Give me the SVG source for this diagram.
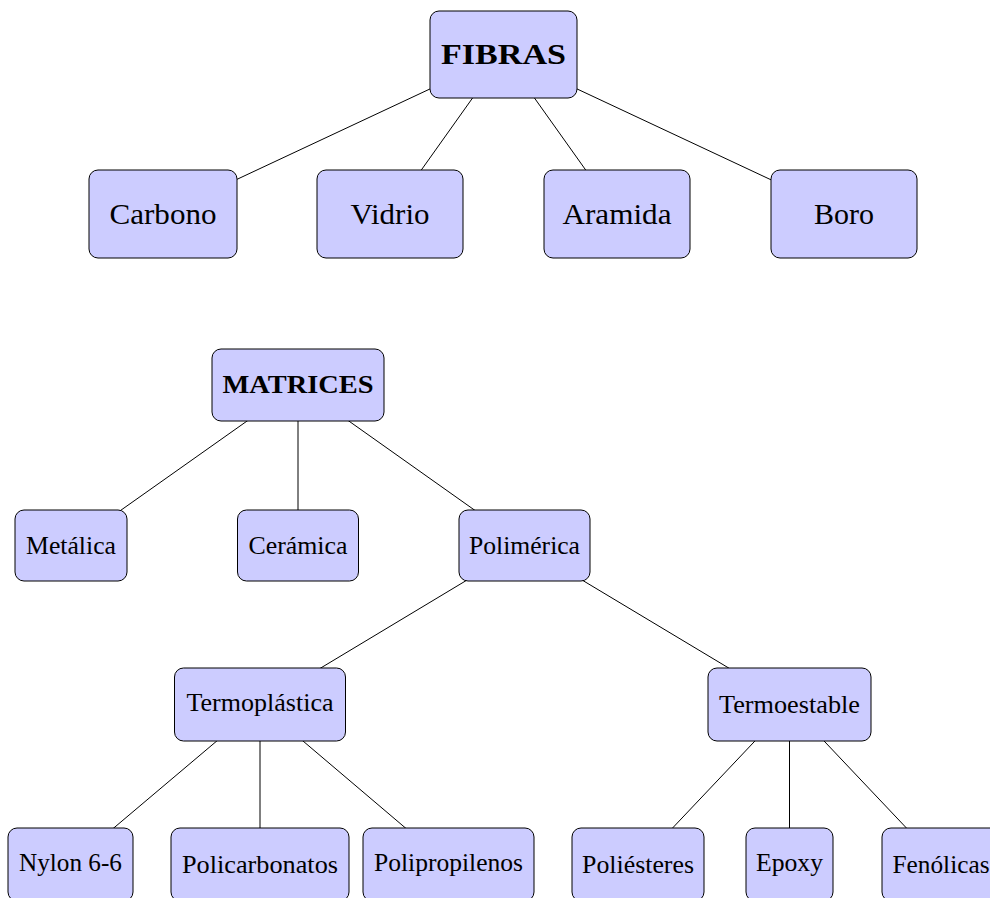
<svg xmlns="http://www.w3.org/2000/svg" width="990" height="898" viewBox="0 0 990 898">
<style>
.box{fill:#ccccff;stroke:#000;stroke-width:1}
.e{stroke:#000;stroke-width:1;fill:none}
text{font-family:"Liberation Serif","Times New Roman",serif;fill:#000;text-anchor:middle}
.big{font-size:29px}
.mid{font-size:24.5px}
.b{font-weight:bold}
</style>
<rect width="990" height="898" fill="#fff"/>
<g id="connectors">
<line class="e" x1="503.5" y1="54.5" x2="163" y2="214"/>
<line class="e" x1="503.5" y1="54.5" x2="390" y2="214"/>
<line class="e" x1="503.5" y1="54.5" x2="617" y2="214"/>
<line class="e" x1="503.5" y1="54.5" x2="844" y2="214"/>
<line class="e" x1="298" y1="385" x2="71" y2="545.5"/>
<line class="e" x1="298" y1="385" x2="298" y2="545.5"/>
<line class="e" x1="298" y1="385" x2="524.5" y2="545.5"/>
<line class="e" x1="524.5" y1="545.5" x2="260" y2="704.5"/>
<line class="e" x1="524.5" y1="545.5" x2="789.5" y2="704.5"/>
<line class="e" x1="260" y1="704.5" x2="70.5" y2="864.5"/>
<line class="e" x1="260" y1="704.5" x2="260" y2="864.5"/>
<line class="e" x1="260" y1="704.5" x2="448.5" y2="864.5"/>
<line class="e" x1="789.5" y1="704.5" x2="638" y2="864.5"/>
<line class="e" x1="789.5" y1="704.5" x2="789.5" y2="864.5"/>
<line class="e" x1="789.5" y1="704.5" x2="941" y2="864.5"/>
</g>
<g id="fibras"><rect class="box" x="430" y="11" width="147" height="87" rx="9"/><text class="big b" x="503.5" y="64" textLength="125" lengthAdjust="spacingAndGlyphs">FIBRAS</text></g>
<g id="carbono"><rect class="box" x="89" y="170" width="148" height="88" rx="9"/><text class="big" x="163" y="224" textLength="107" lengthAdjust="spacingAndGlyphs">Carbono</text></g>
<g id="vidrio"><rect class="box" x="317" y="170" width="146" height="88" rx="9"/><text class="big" x="390" y="224" textLength="79" lengthAdjust="spacingAndGlyphs">Vidrio</text></g>
<g id="aramida"><rect class="box" x="544" y="170" width="146" height="88" rx="9"/><text class="big" x="617" y="224" textLength="109" lengthAdjust="spacingAndGlyphs">Aramida</text></g>
<g id="boro"><rect class="box" x="771" y="170" width="146" height="88" rx="9"/><text class="big" x="844" y="224" textLength="60" lengthAdjust="spacingAndGlyphs">Boro</text></g>
<g id="matrices"><rect class="box" x="212" y="349" width="172" height="72" rx="9"/><text class="mid b" x="298" y="393" textLength="151" lengthAdjust="spacingAndGlyphs">MATRICES</text></g>
<g id="metalica"><rect class="box" x="15" y="510" width="112" height="71" rx="9"/><text class="mid" x="71" y="554" textLength="90" lengthAdjust="spacingAndGlyphs">Metálica</text></g>
<g id="ceramica"><rect class="box" x="237.5" y="510" width="121" height="71" rx="9"/><text class="mid" x="298" y="554" textLength="99" lengthAdjust="spacingAndGlyphs">Cerámica</text></g>
<g id="polimerica"><rect class="box" x="459" y="510" width="131" height="71" rx="9"/><text class="mid" x="524.5" y="554" textLength="111" lengthAdjust="spacingAndGlyphs">Polimérica</text></g>
<g id="termoplastica"><rect class="box" x="174.5" y="668" width="171" height="73" rx="9"/><text class="mid" x="260" y="711" textLength="147" lengthAdjust="spacingAndGlyphs">Termoplástica</text></g>
<g id="termoestable"><rect class="box" x="708" y="668" width="163" height="73" rx="9"/><text class="mid" x="789.5" y="713" textLength="141" lengthAdjust="spacingAndGlyphs">Termoestable</text></g>
<g id="nylon"><rect class="box" x="8" y="828" width="125" height="73" rx="9"/><text class="mid" x="70.5" y="870.5" textLength="103" lengthAdjust="spacingAndGlyphs">Nylon 6-6</text></g>
<g id="policarbonatos"><rect class="box" x="171" y="828" width="178" height="73" rx="9"/><text class="mid" x="260" y="873" textLength="156" lengthAdjust="spacingAndGlyphs">Policarbonatos</text></g>
<g id="polipropilenos"><rect class="box" x="363" y="828" width="171" height="73" rx="9"/><text class="mid" x="448.5" y="870.5" textLength="149" lengthAdjust="spacingAndGlyphs">Polipropilenos</text></g>
<g id="poliesteres"><rect class="box" x="572" y="828" width="132" height="73" rx="9"/><text class="mid" x="638" y="873" textLength="112" lengthAdjust="spacingAndGlyphs">Poliésteres</text></g>
<g id="epoxy"><rect class="box" x="746" y="828" width="87" height="73" rx="9"/><text class="mid" x="789.5" y="870.5" textLength="67" lengthAdjust="spacingAndGlyphs">Epoxy</text></g>
<g id="fenolicas"><rect class="box" x="882" y="828" width="118" height="73" rx="9"/><text class="mid" x="941" y="873" textLength="97" lengthAdjust="spacingAndGlyphs">Fenólicas</text></g>
</svg>
